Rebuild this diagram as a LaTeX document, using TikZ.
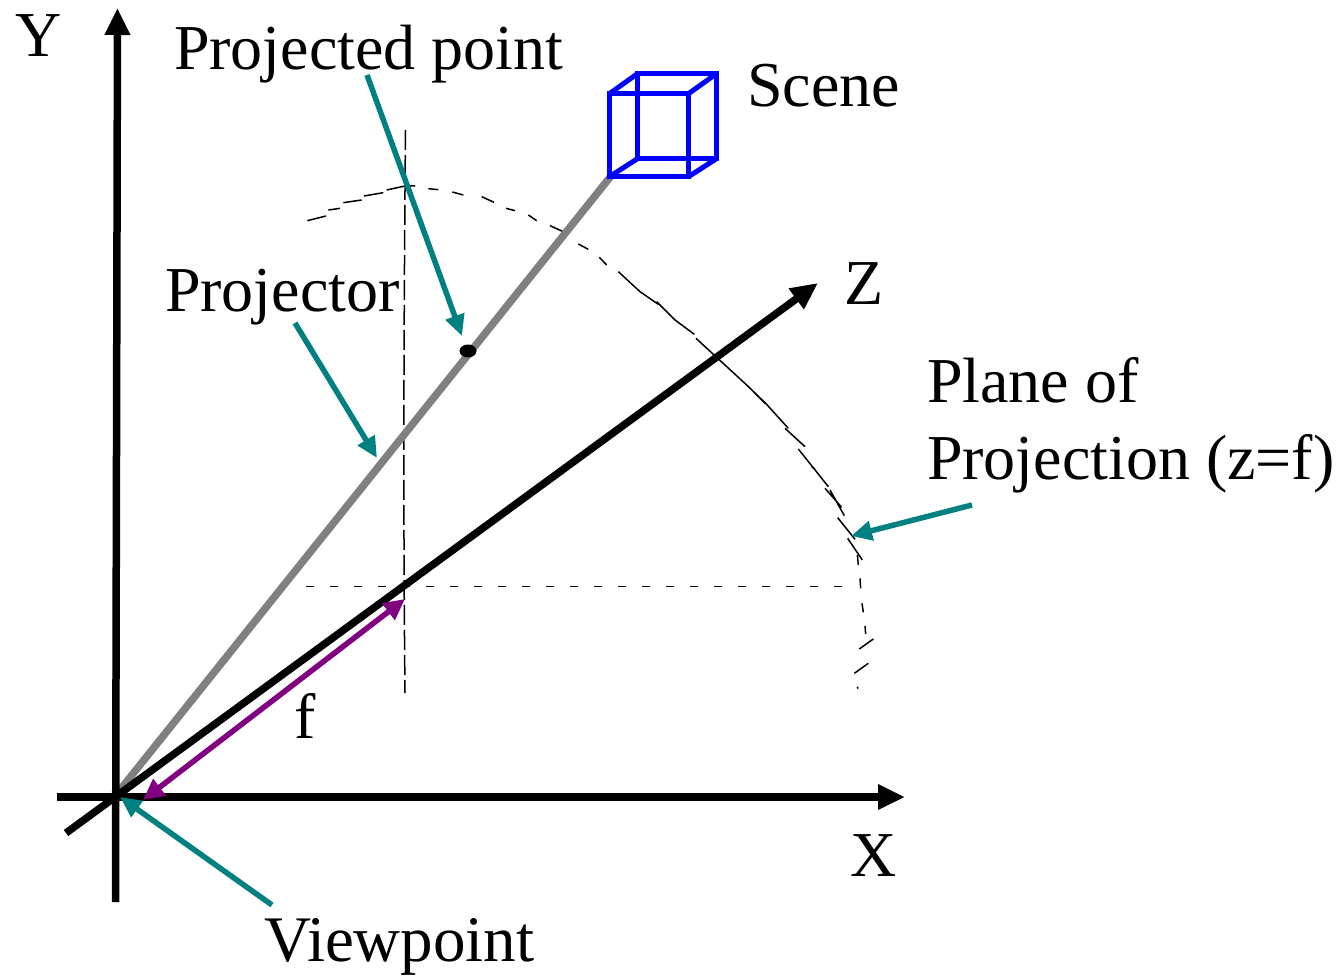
\documentclass[tikz,border=0pt]{standalone}
\usepackage{fontspec}
\setmainfont{Liberation Serif}
\usetikzlibrary{arrows.meta,shapes.geometric}
\definecolor{tealc}{RGB}{0,128,128}
\definecolor{purplec}{RGB}{128,0,128}
\definecolor{greyc}{RGB}{128,128,128}
\definecolor{bluec}{RGB}{0,0,255}
\tikzset{
  lab/.style={anchor=base west,inner sep=0pt,outer sep=0pt,font=\fontsize{64}{70}\selectfont},
  axis/.style={line width=7.5pt,-{Triangle[length=27pt,width=24pt]}},
  pointer/.style={tealc,line width=5.5pt,-{Triangle[length=21pt,width=19pt]}},
  focal/.style={purplec,line width=5.5pt,{Triangle[length=21pt,width=20pt]}-{Triangle[length=21pt,width=20pt]}},
  proj/.style={greyc,line width=7.5pt},
  cube/.style={bluec,line width=5pt,line join=miter},
  fine/.style={line width=1.5pt,black},
}
\begin{document}
\begin{tikzpicture}[x=1pt,y=-1pt]
\useasboundingbox (0,0) rectangle (1339,976);
% anchors
\coordinate (yb) at (115.5,902);
\coordinate (yt) at (117.5,8);
\coordinate (xb) at (57,797);
\coordinate (xt) at (905,797);
\coordinate (zb) at (66,833);
\coordinate (zt) at (818,283);
\coordinate (o) at (116,795);
\coordinate (a) at (611,176);
% dashed construction lines
\coordinate (v1) at (405.5,130);
\coordinate (v2) at (405,693);
\coordinate (h1) at (306,586.5);
\coordinate (h2) at (858,586.5);
\draw[fine,dash pattern=on 20pt off 5pt] (v1) .. controls (404,300) and (403,500) .. (v2);
\draw[fine,dash pattern=on 8pt off 16pt] (h1) -- (h2);
% curved plane edge, first part
\begin{scope}[xshift=290pt,yshift=-60pt,x=0.33333pt,y=-0.33333pt]
\draw[fine]
 (52,482)--(108,468) (115,450)--(150,445) (160,428)--(215,420) (222,408)--(280,398)
 (290,390)--(345,378)--(375,378) (415,386)--(445,389) (487,396)--(520,405) (575,410)--(612,427)
 (648,445)--(675,452) (715,465)--(740,482) (780,497)--(835,522) (865,552)--(895,568) (928,592)--(950,615);
\end{scope}
% curved plane edge, second part
\begin{scope}[xshift=600pt,yshift=-240pt,x=0.33333pt,y=-0.33333pt]
\draw[fine]
 (55,95)--(120,155)--(175,193) (170,185)--(225,240)--(283,283) (288,295)--(440,435)--(497,490)--(565,565)
 (460,455)--(495,490) (555,565)--(615,620) (595,627)--(685,740) (635,680)--(645,688) (675,745)--(725,802)
 (690,750)--(733,827) (713,833)--(765,898) (743,895)--(787,960) (772,945)--(775,975) (780,1015)--(782,1045)
 (786,1090)--(790,1117) (795,1158)--(797,1182) (778,1227)--(820,1197) (763,1300)--(805,1270) (772,1340)--(774,1346);
\end{scope}
% projector and scene
\draw[proj] (o) -- (a);
\coordinate (f1) at (609,94); \coordinate (f2) at (688,94);
\coordinate (f3) at (688,177); \coordinate (f4) at (609,177);
\coordinate (b1) at (637,74); \coordinate (b2) at (716,74);
\coordinate (b3) at (716,159); \coordinate (b4) at (637,159);
\draw[cube] (f1) -- (f2) -- (f3) -- (f4) -- cycle;
\draw[cube] (b1) -- (b2) -- (b3) -- (b4) -- cycle;
\draw[cube] (f1) -- (b1) (f2) -- (b2) (f3) -- (b3) (f4) -- (b4);
% axes
\draw[axis] (yb) -- (yt);
\draw[axis] (xb) -- (xt);
\draw[axis] (zb) -- (zt);
% focal length
\coordinate (fa) at (143,800);
\coordinate (fb) at (405,599);
\draw[focal] (fa) -- (fb);
% projected point
\node[fill=black,ellipse,inner sep=0pt,minimum width=17pt,minimum height=13pt] (pp) at (468,351) {};
% labels
\node[lab] (ly) at (16,57) {Y};
\node[lab] (lpp) at (174,70) {Projected point};
\node[lab] (ls) at (747,107) {Scene};
\node[lab] (lp) at (165,312) {Projector};
\node[lab] (lz) at (844,305) {Z};
\node[lab] (lpl) at (927,402) {Plane of};
\node[lab] (lpr) at (927,479) {Projection (z=f)};
\node[lab] (lf) at (294,738) {f};
\node[lab] (lx) at (850,876) {X};
\node[lab,font=\fontsize{65}{70}\selectfont] (lv) at (264,961) {Viewpoint};
% pointers
\coordinate (s1) at (367,75);   \coordinate (e1) at (462,336);
\coordinate (s2) at (295,323);  \coordinate (e2) at (377,458);
\coordinate (s3) at (972,505);  \coordinate (e3) at (851,536);
\coordinate (s4) at (272,905);  \coordinate (e4) at (120,797);
\draw[pointer] (s1) -- (e1);
\draw[pointer] (s2) -- (e2);
\draw[pointer] (s3) -- (e3);
\draw[pointer] (s4) -- (e4);
\end{tikzpicture}
\end{document}
